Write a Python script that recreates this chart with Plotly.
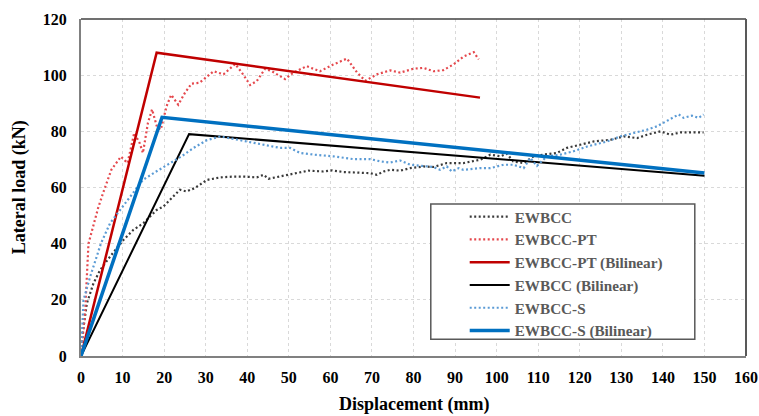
import plotly.graph_objects as go

# ---------------- data ----------------
ewbcc_x = [0, 0.4, 1.4, 3, 4.6, 7, 10.2, 12.6, 15, 18.2, 19.8, 21, 23.8, 25.4, 27.4, 30.3, 33.5, 36.7, 39.1,
           42.3, 43.9, 45.1, 47.9, 51.9, 54.7, 58.3, 60.4, 63.2, 67.2, 69.6, 71.2, 72.8, 74.4, 76.8, 79.2,
           82.4, 84.8, 86.4, 88, 92, 96.1, 98.5, 100.9, 102.5, 104, 106.5, 108.9, 111.3, 114.5, 116.9, 120.2,
           123.4, 127.4, 130.6, 133.8, 136.2, 139.4, 141.8, 144.2, 147.4, 149.8]
ewbcc_y = [0, 8, 18.7, 25.9, 30.6, 35.4, 41.3, 44.9, 47.3, 52, 53.2, 55, 59.2, 58.6, 59.8, 62.7, 63.6, 63.9, 63.9,
           63.6, 64.5, 63.1, 63.9, 65.1, 66, 65.7, 66.1, 65.5, 65.4, 65.1, 64.5, 65.7, 66.3, 66, 66.9,
           67.5, 67.3, 68.1, 68.7, 68.7, 69.9, 71.7, 71.1, 72, 69.3, 68.7, 71.1, 71.7, 72.3, 74.1, 75.3,
           76.4, 77, 78.2, 77.6, 78.8, 80, 78.8, 79.6, 79.6, 79.6]

ewbcc_pt_x = [0, 1, 1.8, 4.1, 5.3, 7.3, 9.6, 11.2, 12.8, 14.1, 14.9, 16.1, 17.1, 18.3, 19.2, 20.6, 21.7, 23.4,
              25, 26.6, 28.5, 31.9, 34.3, 37.1, 38.7, 40.7, 42.3, 44.3, 45.9, 49.1, 51.1, 54.3, 57.5, 60.7,
              64, 66.4, 68.4, 71.2, 74.4, 76.8, 80, 82.4, 84.8, 87.2, 89.6, 92, 94.5, 95.7]
ewbcc_pt_y = [0, 16, 40, 52.6, 58, 66.3, 71, 68.7, 79.4, 75.9, 72.3, 83, 87.8, 81.5, 80.6, 89, 93, 89.5,
              93.7, 97, 97.3, 101.4, 100.3, 104, 100.9, 96.5, 97.9, 102.3, 101.4, 98.6, 100.9, 103.2, 101.4, 103.8,
              105.9, 101, 98, 100.3, 101.7, 100.9, 102.3, 102.6, 101.4, 101.8, 103.8, 106.6, 108.2, 105.6]

ewbcc_s_x = [0, 0.6, 2.2, 3.8, 4.8, 7, 9.7, 12.5, 14.9, 18.1, 20.9, 24.2, 27, 30.2, 33.5, 38.3, 43.1, 47.9,
             50.3, 52.7, 56, 60.7, 65.6, 69.6, 72, 74.4, 76.8, 79.2, 82, 84.8, 86.4, 88, 89.2, 90.9, 92,
             96.1, 98.5, 101.7, 104, 106.5, 108.1, 109.7, 112.1, 115.3, 118.5, 121.8, 126.6, 129.8, 133,
             136.2, 138.6, 141, 143.8, 145, 147, 148.6, 149.8]
ewbcc_s_y = [0, 19.9, 28.2, 36, 40.1, 47.3, 52.6, 58, 62.7, 65.7, 68.1, 71.1, 74, 76.8, 78.2, 76.9, 75.4, 74.1,
             74.1, 72.3, 71.7, 71.1, 70.1, 70.1, 69.3, 68.9, 69.6, 68.1, 67.7, 67.3, 66.3, 67.5, 65.7, 66.9, 66.3,
             66.9, 66.9, 68.1, 68.1, 66.9, 70.5, 67.7, 71.1, 71.7, 72.9, 74.6, 76.4, 78.2, 79.4,
             80.6, 81.8, 83.6, 86, 84.8, 85.6, 84.8, 86]

pt_bilinear_x = [0, 18.2, 96]
pt_bilinear_y = [0, 108, 92]
ewbcc_bilinear_x = [0, 26, 150]
ewbcc_bilinear_y = [0, 79, 64.2]
s_bilinear_x = [0, 19.5, 150]
s_bilinear_y = [0, 85, 65.2]

x_ticks = list(range(0, 161, 10))
y_ticks = list(range(0, 121, 20))

# ---------------- figure ----------------
FONT = "Times New Roman, Liberation Serif, DejaVu Serif, serif"
fig = go.Figure()

fig.add_trace(go.Scatter(x=ewbcc_x, y=ewbcc_y, mode="lines", name="EWBCC",
                         line=dict(color="#3a3a3a", width=2.2, dash="2px,2.5px")))
fig.add_trace(go.Scatter(x=ewbcc_pt_x, y=ewbcc_pt_y, mode="lines", name="EWBCC-PT",
                         line=dict(color="#e5484d", width=2.2, dash="2px,2.5px")))
fig.add_trace(go.Scatter(x=pt_bilinear_x, y=pt_bilinear_y, mode="lines", name="EWBCC-PT (Bilinear)",
                         line=dict(color="#c00000", width=2.5)))
fig.add_trace(go.Scatter(x=ewbcc_bilinear_x, y=ewbcc_bilinear_y, mode="lines", name="EWBCC (Bilinear)",
                         line=dict(color="#000000", width=2)))
fig.add_trace(go.Scatter(x=ewbcc_s_x, y=ewbcc_s_y, mode="lines", name="EWBCC-S",
                         line=dict(color="#5b9bd5", width=2.2, dash="2px,2.5px")))
fig.add_trace(go.Scatter(x=s_bilinear_x, y=s_bilinear_y, mode="lines", name="EWBCC-S (Bilinear)",
                         line=dict(color="#0070c0", width=3.5)))

fig.update_layout(
    width=759, height=416,
    margin=dict(l=81, r=13, t=19, b=60, autoexpand=False),
    paper_bgcolor="white", plot_bgcolor="white",
    font=dict(family=FONT, size=16, color="black"),
    showlegend=True,
    legend=dict(x=0.577, y=0.462, xanchor="left", yanchor="top",
                bgcolor="rgba(0,0,0,0)", borderwidth=0,
                font=dict(family=FONT, size=15.2, color="#595959", weight="bold"),
                tracegroupgap=0, itemwidth=40),
    xaxis=dict(range=[0, 160], tickvals=x_ticks, ticktext=[str(v) for v in x_ticks],
               showgrid=True, gridcolor="#d9d9d9", gridwidth=1, griddash="3px,3px",
               zeroline=False, showline=True, linecolor="#808080", linewidth=2,
               ticks="", ticklabelstandoff=6, automargin=False,
               tickfont=dict(family=FONT, size=16, color="black", weight="bold")),
    yaxis=dict(range=[0, 120], tickvals=y_ticks, ticktext=[str(v) for v in y_ticks],
               showgrid=True, gridcolor="#d9d9d9", gridwidth=1, griddash="3px,3px",
               zeroline=False, showline=True, linecolor="#808080", linewidth=2,
               ticks="", ticklabelstandoff=9, automargin=False,
               tickfont=dict(family=FONT, size=16, color="black", weight="bold")),
    annotations=[
        dict(text="<b>Displacement (mm)</b>", xref="paper", yref="paper", x=0.5, y=-0.143,
             xanchor="center", yanchor="middle", showarrow=False,
             font=dict(family=FONT, size=18, color="black")),
        dict(text="<b>Lateral load (kN)</b>", xref="paper", yref="paper", x=-0.092, y=0.5,
             xanchor="center", yanchor="middle", showarrow=False, textangle=-90,
             font=dict(family=FONT, size=18, color="black")),
    ],
    shapes=[
        dict(type="rect", xref="paper", yref="paper", x0=0.526, x1=0.923, y0=0.050, y1=0.451,
             line=dict(color="#595959", width=1.5), fillcolor="white", layer="above"),
        dict(type="line", xref="paper", yref="paper", x0=0, x1=1, y0=1, y1=1,
             line=dict(color="#404040", width=1.5), layer="above"),
        dict(type="line", xref="paper", yref="paper", x0=1, x1=1, y0=0, y1=1,
             line=dict(color="#595959", width=2), layer="above"),
    ],
)

fig.write_html("out.html")
